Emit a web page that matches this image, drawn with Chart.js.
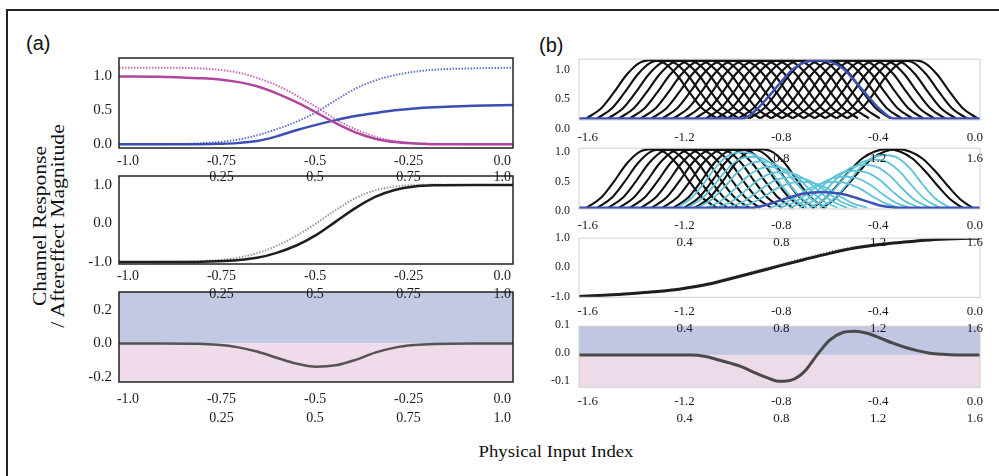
<!DOCTYPE html>
<html><head><meta charset="utf-8">
<script src="https://cdn.jsdelivr.net/npm/chart.js@4.4.1/dist/chart.umd.min.js"></script>
<style>
html,body{margin:0;padding:0;background:#fff;width:999px;height:476px;overflow:hidden;position:relative;}
#frame{position:absolute;left:6px;top:9px;width:1010px;height:480px;border-left:2px solid #222;border-top:2px solid #222;}
canvas{position:absolute;}
.t{position:absolute;color:#111;white-space:nowrap;}
</style></head><body>
<div id="frame"></div>
<div class="t" style="left:26px;top:33px;font:20px/20px 'Liberation Sans',Arial,sans-serif;">(a)</div>
<div class="t" style="left:539px;top:35px;font:20px/20px 'Liberation Sans',Arial,sans-serif;">(b)</div>
<div class="t" style="left:49px;top:226px;font:18px/18px 'Liberation Serif','Times New Roman',serif;text-align:center;transform:translate(-50%,-50%) rotate(-90deg) scaleX(1.2);">Channel Response<br>/ Aftereffect Magnitude</div>
<div class="t" style="left:556px;top:452px;font:17px/18px 'Liberation Serif','Times New Roman',serif;transform:translate(-50%,-50%) scaleX(1.1);">Physical Input Index</div>
<script>
// ---------------- data ----------------
// panel (a) x samples
const xA = [-1.0,-0.9,-0.8,-0.75,-0.7,-0.65,-0.6,-0.55,-0.5,-0.45,-0.4,-0.35,-0.3,-0.25,-0.2,-0.1,0.0];
const a1MagentaSolid  = [1.0,0.995,0.975,0.96,0.92,0.855,0.75,0.62,0.47,0.31,0.175,0.08,0.03,0.01,0.0,0.0,0.0];
const a1BlueSolid     = [0.0,0.0,0.0,0.005,0.015,0.045,0.115,0.205,0.285,0.355,0.415,0.46,0.5,0.527,0.545,0.568,0.58];
const a1MagentaDotted = [1.13,1.13,1.12,1.10,1.06,0.98,0.87,0.72,0.55,0.37,0.22,0.11,0.045,0.015,0.005,0.0,0.0];
const a1BlueDotted    = [0.0,0.0,0.01,0.03,0.065,0.13,0.22,0.33,0.47,0.65,0.82,0.94,1.02,1.07,1.10,1.12,1.13];
const a2Solid  = [-1.0,-1.0,-0.995,-0.98,-0.95,-0.89,-0.76,-0.57,-0.30,0.05,0.40,0.69,0.87,0.96,0.99,1.0,1.0];
const a2Dotted = [-1.0,-0.995,-0.975,-0.95,-0.89,-0.77,-0.58,-0.32,0.0,0.35,0.66,0.86,0.96,1.0,1.01,1.0,1.0];
const a3Effect = [0.0,0.0,-0.002,-0.008,-0.022,-0.048,-0.085,-0.12,-0.138,-0.13,-0.098,-0.055,-0.025,-0.01,-0.003,0.0,0.0];

// panel (b): channel tuning profile (offset from channel centre -> response)
const tuneOffsets = [-0.26,-0.2,-0.15,-0.1,-0.05,0.0,0.05,0.1,0.15,0.2,0.26];
const tuneProfile = [0.0,0.18,0.45,0.75,0.95,1.0,0.95,0.75,0.45,0.18,0.0];
const b1Centers = [-1.310,-1.267,-1.223,-1.180,-1.137,-1.093,-1.050,-1.007,-0.963,-0.920,-0.877,-0.833,-0.790,-0.747,-0.703,-0.660,-0.617,-0.573,-0.530,-0.487,-0.443,-0.400,-0.357,-0.313,-0.270];
const b1AdaptX = [-1.6,-0.945,-0.895,-0.845,-0.795,-0.745,-0.695,-0.645,-0.595,-0.545,-0.495,-0.445,-0.395,-0.345,0.0];
const b1AdaptY = [0.0,0.0,0.14,0.37,0.62,0.85,0.97,1.0,0.97,0.85,0.62,0.37,0.14,0.0,0.0];
const b2BlackCenters = [-1.310,-1.267,-1.223,-1.180,-1.137,-1.093,-1.050,-1.007,-0.963,-0.920,-0.877];
const b2CyanCenters = [-0.95,-0.91,-0.87,-0.83,-0.79,-0.75,-0.71,-0.58,-0.54,-0.50,-0.46,-0.42,-0.38];
const b2CyanPeaks   = [0.95,0.87,0.79,0.70,0.61,0.52,0.44,0.44,0.53,0.63,0.73,0.82,0.90];
const b2RightBlack1X = [-0.67,-0.62,-0.57,-0.52,-0.47,-0.42,-0.37,-0.32,-0.27,-0.22,-0.17,-0.12,-0.07];
const b2RightBlack1Y = [0.0,0.15,0.38,0.63,0.84,0.96,1.0,0.96,0.84,0.63,0.38,0.15,0.0];
const b2RightBlack2X = [-0.63,-0.58,-0.53,-0.48,-0.43,-0.38,-0.33,-0.28,-0.23,-0.18,-0.13,-0.08,-0.03];
const b2RightBlack2Y = [0.0,0.15,0.38,0.63,0.84,0.96,1.0,0.96,0.84,0.63,0.38,0.15,0.0];
const b2PopX = [-1.6,-0.915,-0.865,-0.815,-0.765,-0.715,-0.665,-0.63,-0.595,-0.545,-0.495,-0.445,-0.395,-0.345,-0.33,0.0];
const b2PopY = [0.0,0.0,0.035,0.1,0.17,0.23,0.26,0.27,0.26,0.23,0.17,0.1,0.035,0.005,0.0,0.0];
const xB = [-1.6,-1.5,-1.4,-1.3,-1.2,-1.1,-1.0,-0.9,-0.8,-0.7,-0.6,-0.5,-0.4,-0.3,-0.2,-0.1,0.0];
const b3Solid  = [-1.0,-0.96,-0.91,-0.84,-0.75,-0.61,-0.40,-0.18,0.05,0.27,0.48,0.66,0.78,0.87,0.94,0.98,1.0];
const b3Dotted = [-1.0,-0.95,-0.90,-0.82,-0.72,-0.57,-0.36,-0.13,0.10,0.33,0.54,0.71,0.82,0.89,0.95,0.98,1.0];
const xB4 = [-1.6,-1.5,-1.4,-1.3,-1.2,-1.15,-1.1,-1.05,-1.0,-0.95,-0.9,-0.85,-0.8,-0.75,-0.7,-0.65,-0.6,-0.55,-0.5,-0.45,-0.4,-0.35,-0.3,-0.25,-0.2,-0.15,-0.1,0.0];
const b4Effect = [0.0,0.0,0.0,0.0,0.0,0.0,-0.005,-0.016,-0.028,-0.042,-0.062,-0.08,-0.093,-0.088,-0.058,0.0,0.052,0.078,0.083,0.076,0.06,0.042,0.027,0.015,0.006,0.002,0.0,0.0];

// tick labels
const xTicksA  = [-1.0,-0.75,-0.5,-0.25,0.0];
const xTicksA2 = [0.25,0.5,0.75,1.0];
const xTicksB  = [-1.6,-1.2,-0.8,-0.4,0.0];
const xTicksB2 = [0.4,0.8,1.2,1.6];
const xTicksB2Top = [0.8,1.2,1.6];
const yTicksA1 = [0.0,0.5,1.0];
const yTicksA2 = [-1.0,0.0,1.0];
const yTicksA3 = [-0.2,0.0,0.2];
const yTicksB1 = [0.0,0.5,1.0];
const yTicksB3 = [-1.0,0.0,1.0];
const yTicksB4 = [-0.1,0.0,0.1];

// ---------------- drawing ----------------
Chart.defaults.font.family = "'Liberation Serif','Times New Roman',serif";
Chart.defaults.font.size = 13;
Chart.defaults.color = '#1a1a1a';

function fmt(v){ v = +(+v).toFixed(4); return Math.abs(v - Math.round(v)) < 1e-9 ? v.toFixed(1) : String(v); }
const pts = (xs, ys) => xs.map((x,i)=>({x:x, y:ys[i]}));
const chan = (c, peak) => tuneOffsets.map((d,i)=>({x:c+d, y:peak*tuneProfile[i]}));

function line(data, color, width, dash){
  return {data:data, borderColor:color, borderWidth:width, borderDash:dash||[], pointRadius:0, fill:false,
          cubicInterpolationMode:'monotone', xAxisID:'x', yAxisID:'y'};
}

const framePlugin = {id:'frame', afterDatasetsDraw(chart, args, o){
  const a = chart.chartArea, c = chart.ctx; c.save(); c.strokeStyle = o.color; c.lineWidth = o.width;
  c.strokeRect(a.left, a.top, a.right-a.left, a.bottom-a.top); c.restore(); }};
const bandPlugin = {id:'bands', beforeDatasetsDraw(chart, args, o){
  if (!o || !o.above) return;
  const a = chart.chartArea, c = chart.ctx, y0 = chart.scales.y.getPixelForValue(0);
  c.save(); c.fillStyle = o.above; c.fillRect(a.left, a.top, a.right-a.left, y0-a.top);
  c.fillStyle = o.below; c.fillRect(a.left, y0, a.right-a.left, a.bottom-y0); c.restore(); }};

function panel(o){
  const H2 = 30;
  const cTop = Math.floor(o.plotTop - 12);
  const h = Math.ceil(o.plotBottom - cTop + o.H1 + H2);
  const padBottom = h - (o.plotBottom - cTop) - o.H1 - H2;
  const cv = document.createElement('canvas');
  cv.width = o.w; cv.height = h;
  cv.style.left = o.left+'px'; cv.style.top = cTop+'px'; cv.style.zIndex = o.z;
  document.body.appendChild(cv);
  const lab = (ticks, min, max, pad, weight, hh) => ({
    type:'linear', position:'bottom', weight:weight, min:min, max:max,
    grid:{display:false, drawTicks:false, tickLength:0}, border:{display:false},
    ticks:{autoSkip:false, maxRotation:0, minRotation:0, padding:pad, callback:fmt, font:{size:o.xfs}},
    afterBuildTicks:s=>{ s.ticks = ticks.map(v=>({value:v})); },
    afterFit:s=>{ s.height = hh; }
  });
  new Chart(cv, {
    type:'line',
    data:{datasets:o.datasets},
    options:{
      responsive:false, animation:false, events:[],
      layout:{padding:{left:0, right:o.padRight, top:o.plotTop - cTop, bottom:padBottom}},
      plugins:{legend:{display:false}, tooltip:{enabled:false},
               frame:{color:o.frameColor, width:o.frameWidth}, bands:o.bands || {}},
      scales:{
        x:{type:'linear', display:false, min:o.xmin, max:o.xmax},
        xl:lab(o.t1, o.l1min, o.l1max, o.pad1, 1, o.H1),
        xl2:lab(o.t2, o.l2min, o.l2max, 0, 2, H2),
        y:{type:'linear', position:'left', min:o.ymin, max:o.ymax,
           grid:{display:false, drawTicks:false, tickLength:0}, border:{display:false},
           ticks:{autoSkip:false, padding:o.ypad, labelOffset:o.yoff||0, callback:fmt, font:{size:o.yfs}},
           afterBuildTicks:s=>{ s.ticks = o.yt.map(v=>({value:v})); },
           afterFit:s=>{ s.width = o.yw; }}
      }
    },
    plugins:[bandPlugin, framePlugin]
  });
}

const A = {left:60, w:470, yw:59, padRight:17, xmin:-1, xmax:0, ypad:7, xfs:14, yfs:15,
           t1:xTicksA, l1min:-1.024, l1max:0.029, t2:xTicksA2, l2min:-0.024, l2max:1.029,
           frameColor:'#222', frameWidth:1.5};
const B = {left:530, w:469, yw:49, padRight:19, xmin:-1.6, xmax:0, ypad:9, xfs:13, yfs:12,
           t1:xTicksB, l1min:-1.636, l1max:0.021, t2:xTicksB2, l2min:-0.036, l2max:1.621,
           frameColor:'#cfcfcf', frameWidth:1};

// (a) top
panel(Object.assign({}, A, {plotTop:54, plotBottom:148, pad1:5.3, H1:20.6, z:3, ymin:-0.057, ymax:1.273, yt:yTicksA1,
  datasets:[
    line(pts(xA,a1MagentaSolid), '#b0479e', 2.5),
    line(pts(xA,a1BlueSolid), '#3a4fb2', 2.5),
    line(pts(xA,a1MagentaDotted), '#c46ab8', 2, [1.5,1.5]),
    line(pts(xA,a1BlueDotted), '#6272c8', 2, [1.5,1.5])
  ]}));
// (a) middle
panel(Object.assign({}, A, {plotTop:172.7, plotBottom:264, pad1:3.5, H1:22, z:2, ymin:-1.05, ymax:1.233, yt:yTicksA2,
  datasets:[
    line(pts(xA,a2Solid), '#1e1e1e', 2.5),
    line(pts(xA,a2Dotted), '#9a9a9a', 2, [1.5,1.5])
  ]}));
// (a) bottom
panel(Object.assign({}, A, {plotTop:288.3, plotBottom:382, pad1:8.5, H1:27.5, z:1, ymin:-0.229, ymax:0.305, yt:yTicksA3,
  bands:{above:'#c3c8e3', below:'#efdbe9'},
  datasets:[ line(pts(xA,a3Effect), '#555555', 2.5) ]}));

// (b) 1: channel tuning curves before adaptation
panel(Object.assign({}, B, {plotTop:55, plotBottom:120, pad1:9.5, H1:30.5, z:4, ymin:-0.027, ymax:1.016, yt:yTicksB1, yoff:10,
  t2:xTicksB2Top,
  datasets:[ line(pts(b1AdaptX,b1AdaptY), '#3c52b4', 2.5) ]
    .concat(b1Centers.map(c=>line(chan(c,1.0), '#111111', 2.1)))
}));
// (b) 2: after adaptation
panel(Object.assign({}, B, {plotTop:144, plotBottom:209, pad1:9.2, H1:26.2, z:3, ymin:-0.021, ymax:1.016, yt:yTicksB1, yoff:3,
  datasets:[ line(pts(b2PopX,b2PopY), '#3c52b4', 2.5) ]
    .concat(b2CyanCenters.map((c,i)=>line(chan(c,b2CyanPeaks[i]), '#5ec3d8', 1.8)))
    .concat(b2BlackCenters.map(c=>line(chan(c,1.0), '#111111', 2.1)))
    .concat([line(pts(b2RightBlack1X,b2RightBlack1Y), '#111111', 2.1), line(pts(b2RightBlack2X,b2RightBlack2Y), '#111111', 2.1)])
}));
// (b) 3
panel(Object.assign({}, B, {plotTop:234, plotBottom:297.3, pad1:6.9, H1:23.5, z:2, ymin:-1.03, ymax:1.0, yt:yTicksB3,
  datasets:[
    line(pts(xB,b3Solid), '#1e1e1e', 3),
    line(pts(xB,b3Dotted), '#8a8a8a', 1.5, [1,2])
  ]}));
// (b) 4
panel(Object.assign({}, B, {plotTop:322.7, plotBottom:387.3, pad1:6.9, H1:23.5, z:1, ymin:-0.114, ymax:0.101, yt:yTicksB4, yoff:-2,
  bands:{above:'#c1c6e3', below:'#eedbea'},
  datasets:[ line(pts(xB4,b4Effect), '#4a4a4a', 3) ]}));
</script>
</body></html>
